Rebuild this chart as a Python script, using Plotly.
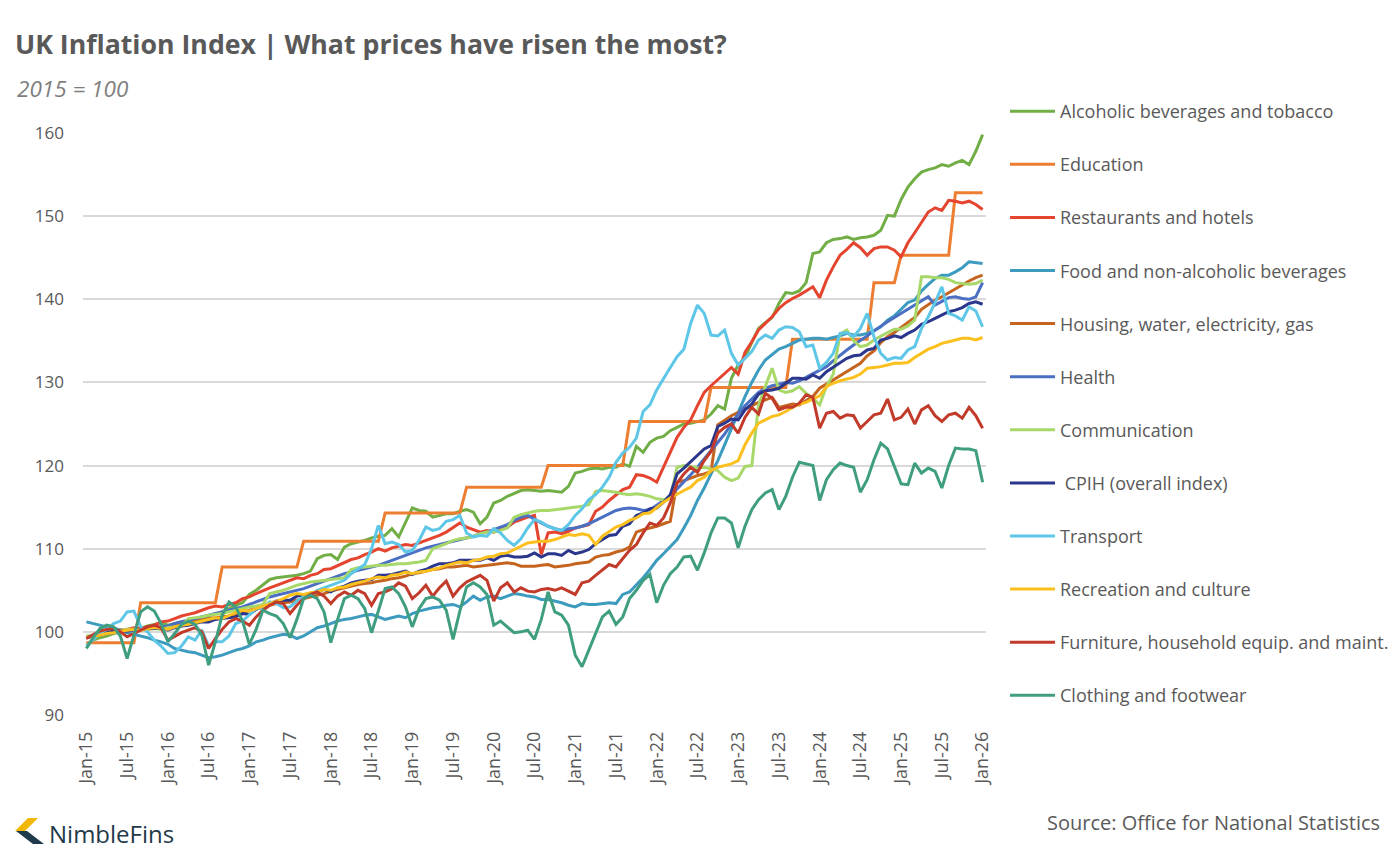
import plotly.graph_objects as go
import pandas as pd

# ---------------- data (CPIH divisions, 2015 = 100, monthly Jan-15 .. Jan-26) ----------------
MONTHS = pd.date_range("2015-01-01", "2026-01-01", freq="MS").strftime("%b-%y").tolist()
TICK_LABELS = ["Jan-15", "Jul-15", "Jan-16", "Jul-16", "Jan-17", "Jul-17", "Jan-18", "Jul-18",
               "Jan-19", "Jul-19", "Jan-20", "Jul-20", "Jan-21", "Jul-21", "Jan-22", "Jul-22",
               "Jan-23", "Jul-23", "Jan-24", "Jul-24", "Jan-25", "Jul-25", "Jan-26"]
Y_TICKS = [90, 100, 110, 120, 130, 140, 150, 160]

ALCOHOL = [
    98.5, 99.0, 99.3, 99.5, 99.8, 100.0, 100.1, 100.2, 100.4, 100.7, 100.9, 101.1,
    100.8, 101.0, 101.2, 101.3, 101.5, 101.7, 101.9, 102.2, 102.4, 102.8, 103.2, 103.5,
    104.5, 105.0, 105.7, 106.3, 106.5, 106.6, 106.7, 106.8, 107.0, 107.3, 108.8, 109.2,
    109.3, 108.7, 110.2, 110.6, 110.8, 111.0, 111.3, 111.5, 111.6, 112.4, 111.4, 113.2,
    114.9, 114.6, 114.5, 113.8, 114.0, 114.2, 114.2, 114.5, 114.7, 114.4, 113.0, 113.8,
    115.5, 115.8, 116.3, 116.7, 117.0, 117.1, 117.0, 116.9, 117.0, 116.9, 116.8, 117.5,
    119.1, 119.3, 119.6, 119.7, 119.6, 119.8, 119.8, 120.2, 119.9, 122.3, 121.6, 122.8,
    123.3, 123.5, 124.2, 124.6, 125.0, 125.1, 125.3, 125.5, 126.2, 127.2, 126.8, 130.5,
    132.1, 133.0, 134.8, 136.5, 137.2, 137.8, 139.5, 140.8, 140.7, 141.0, 142.0, 145.5,
    145.7, 146.8, 147.2, 147.3, 147.5, 147.2, 147.4, 147.5, 147.7, 148.3, 150.1, 150.0,
    152.0, 153.5, 154.5, 155.3, 155.6, 155.8, 156.2, 156.0, 156.4, 156.7, 156.2, 157.8,
    159.8]

EDUCATION = [
    98.7, 98.7, 98.7, 98.7, 98.7, 98.7, 98.7, 98.7, 103.5, 103.5, 103.5, 103.5,
    103.5, 103.5, 103.5, 103.5, 103.5, 103.5, 103.5, 103.5, 107.8, 107.8, 107.8, 107.8,
    107.8, 107.8, 107.8, 107.8, 107.8, 107.8, 107.8, 107.8, 110.9, 110.9, 110.9, 110.9,
    110.9, 110.9, 110.9, 110.9, 110.9, 110.9, 110.9, 110.9, 114.3, 114.3, 114.3, 114.3,
    114.3, 114.3, 114.3, 114.3, 114.3, 114.3, 114.3, 114.3, 117.4, 117.4, 117.4, 117.4,
    117.4, 117.4, 117.4, 117.4, 117.4, 117.4, 117.4, 117.4, 120.0, 120.0, 120.0, 120.0,
    120.0, 120.0, 120.0, 120.0, 120.0, 120.0, 120.0, 120.0, 125.3, 125.3, 125.3, 125.3,
    125.3, 125.3, 125.3, 125.3, 125.3, 125.3, 125.3, 125.3, 129.4, 129.4, 129.4, 129.4,
    129.4, 129.4, 129.4, 129.4, 129.4, 129.4, 129.4, 129.4, 135.2, 135.2, 135.2, 135.2,
    135.2, 135.2, 135.2, 135.2, 135.2, 135.2, 135.2, 135.2, 142.0, 142.0, 142.0, 142.0,
    145.3, 145.3, 145.3, 145.3, 145.3, 145.3, 145.3, 145.3, 152.8, 152.8, 152.8, 152.8,
    152.8]

RESTAURANTS = [
    99.3, 99.5, 99.7, 99.9, 100.0, 100.2, 100.3, 100.5, 100.4, 100.6, 100.8, 101.2,
    101.3, 101.6, 101.9, 102.1, 102.3, 102.6, 102.9, 103.1, 103.0, 103.3, 103.5, 104.0,
    104.2, 104.6, 105.0, 105.3, 105.6, 105.9, 106.2, 106.5, 106.4, 106.8, 107.0, 107.5,
    107.6, 108.0, 108.4, 108.7, 108.9, 109.3, 109.6, 110.0, 109.7, 110.1, 110.3, 110.5,
    110.4, 110.7, 111.0, 111.3, 111.6, 112.0, 112.5, 113.1, 112.6, 112.3, 112.0, 112.2,
    112.0, 112.3, 112.6, 113.2, 113.5, 113.8, 114.0, 109.3, 111.9, 112.0, 111.8, 112.1,
    112.5, 112.7, 112.9, 114.5, 115.0, 115.8, 116.5, 117.1, 117.4, 118.9, 118.8, 118.5,
    118.0, 119.8, 121.5, 123.4, 124.6, 125.5, 127.2, 128.8, 129.6, 130.3, 131.0, 131.8,
    131.0, 133.6, 134.9, 136.3, 137.1, 137.9, 138.9, 139.6, 140.1, 140.5, 141.0, 141.5,
    140.2, 142.3, 143.9, 145.3, 146.0, 146.8, 146.2, 145.3, 146.1, 146.3, 146.3, 145.9,
    145.1, 146.8, 148.0, 149.3, 150.5, 151.0, 150.7, 151.9, 151.8, 151.6, 151.8, 151.4,
    150.8]

FOOD = [
    101.2, 101.0, 100.8, 100.6, 100.5, 100.2, 99.9, 99.7, 99.5, 99.3, 99.0, 98.8,
    98.5, 98.0, 97.8, 97.6, 97.5, 97.2, 96.9, 97.0, 97.2, 97.5, 97.8, 98.0,
    98.3, 98.8, 99.0, 99.3, 99.5, 99.7, 99.6, 99.2, 99.5, 100.0, 100.5, 100.7,
    101.0, 101.3, 101.5, 101.6, 101.8, 102.0, 102.1, 101.8, 101.5, 101.7, 101.9, 101.7,
    102.2, 102.5, 102.7, 102.9, 103.0, 103.2, 103.3, 103.0, 103.6, 104.3, 103.8, 104.2,
    104.3, 104.0, 104.3, 104.6, 104.5, 104.3, 104.2, 103.9, 103.9, 103.7, 103.5, 103.2,
    103.0, 103.4, 103.3, 103.3, 103.4, 103.5, 103.4, 104.5, 104.8, 105.6, 106.5, 107.5,
    108.6, 109.4, 110.2, 111.1, 112.5, 114.0, 115.8, 117.3, 119.0, 120.6, 122.5, 124.5,
    126.3, 128.3, 130.0, 131.5, 132.7, 133.4, 134.0, 134.3, 134.7, 135.1, 135.2, 135.3,
    135.3, 135.2, 135.4, 135.6, 135.9, 135.7, 135.7, 135.9, 136.2, 136.7, 137.5, 138.0,
    138.8, 139.6, 139.9, 141.0, 141.8, 142.5, 142.9, 142.9, 143.3, 143.8, 144.5, 144.4,
    144.3]

HOUSING = [
    99.4, 99.5, 99.6, 99.8, 99.9, 100.0, 100.1, 100.2, 100.3, 100.3, 100.4, 100.5,
    100.6, 100.8, 101.0, 101.1, 101.3, 101.4, 101.6, 101.7, 101.8, 101.9, 102.1, 102.3,
    102.6, 102.8, 103.0, 103.2, 103.4, 103.5, 103.6, 103.8, 104.0, 104.2, 104.4, 104.6,
    104.9, 105.1, 105.3, 105.5, 105.7, 105.8, 105.9, 106.1, 106.2, 106.4, 106.5, 106.7,
    107.0, 107.1, 107.3, 107.5, 107.6, 107.8, 107.8, 107.9, 108.0, 107.8, 107.9, 108.0,
    108.1, 108.2, 108.3, 108.2, 107.9, 107.9, 107.9, 108.0, 108.1, 107.8, 107.9, 108.0,
    108.2, 108.3, 108.4, 109.0, 109.2, 109.3, 109.6, 109.8, 110.2, 112.0, 112.3, 112.5,
    112.7, 113.0, 113.3, 118.0, 118.2, 118.5, 118.8, 119.0, 119.3, 124.9, 125.5, 126.0,
    126.4, 126.8, 127.2, 127.6, 127.9, 128.2, 127.0, 127.2, 127.4, 127.3, 127.8, 128.3,
    129.3, 129.8, 130.3, 130.8, 131.2, 131.7, 132.3, 133.2, 133.8, 134.8, 135.5, 136.0,
    136.6, 137.2, 137.8, 138.8, 139.4, 139.9, 140.3, 140.8, 141.3, 141.7, 142.2, 142.6,
    142.9]

HEALTH = [
    99.3, 99.5, 99.6, 99.8, 99.9, 100.0, 100.1, 100.2, 100.3, 100.4, 100.5, 100.6,
    100.7, 101.0, 101.2, 101.4, 101.6, 101.8, 102.0, 102.2, 102.4, 102.6, 102.8, 103.0,
    103.3, 103.6, 103.9, 104.2, 104.4, 104.6, 104.8, 105.0, 105.2, 105.5, 105.8, 106.1,
    106.4, 106.7, 107.0, 107.2, 107.4, 107.6, 107.8, 108.0, 108.3, 108.6, 108.9, 109.2,
    109.5, 109.8, 110.1, 110.3, 110.5, 110.7, 110.9, 111.1, 111.3, 111.5, 111.8, 112.0,
    112.3, 112.6, 112.9, 113.4, 113.8, 114.0, 113.5, 113.1, 112.7, 112.4, 112.2, 112.4,
    112.5, 112.7, 113.0, 113.4, 113.8, 114.2, 114.6, 114.8, 114.9, 114.8, 114.6, 114.7,
    115.2, 115.8, 116.3, 117.2, 118.0, 118.9, 119.8, 120.8, 121.8, 122.8, 123.8, 125.0,
    126.2, 127.2, 128.0, 128.8, 129.3, 129.6, 129.8, 130.0, 129.9, 130.2, 130.6, 131.0,
    131.4, 131.9, 132.6, 133.3, 133.9, 134.5, 135.0, 135.6, 136.2, 136.8, 137.3, 137.8,
    138.3, 138.8, 139.3, 139.7, 140.3, 139.3, 139.8, 140.2, 140.3, 140.1, 140.0, 140.3,
    142.0]

COMMUNICATION = [
    99.5, 99.6, 99.7, 100.1, 100.2, 100.2, 100.3, 100.3, 100.2, 100.3, 100.4, 100.3,
    100.5, 100.6, 100.7, 101.6, 101.7, 101.8, 102.0, 102.1, 102.2, 102.4, 102.6, 102.8,
    103.0, 103.1, 103.3, 104.6, 104.8, 105.0, 105.3, 105.6, 105.8, 106.0, 106.1, 106.2,
    106.3, 106.4, 106.5, 107.5, 107.7, 107.8, 107.9, 108.0, 108.0, 108.1, 108.2, 108.2,
    108.3, 108.4, 108.6, 110.0, 110.3, 110.6, 111.0, 111.2, 111.3, 111.5, 111.8, 112.0,
    112.0, 112.2, 112.5, 113.8, 114.1, 114.3, 114.5, 114.6, 114.6, 114.7, 114.8, 114.9,
    115.0, 115.1, 115.3, 116.9, 117.0, 116.9, 116.8, 116.6, 116.5, 116.6, 116.5, 116.3,
    116.0, 115.9, 116.1, 119.8, 120.0, 119.9, 119.7, 119.8, 119.6, 119.4, 118.6, 118.2,
    118.5, 119.9, 120.0, 127.3, 129.5, 131.7, 129.1, 128.8, 129.0, 129.5, 128.7, 128.1,
    127.3, 129.5, 131.0, 135.8, 136.3, 135.0, 134.3, 134.5, 135.1, 135.6, 136.0, 136.4,
    136.4, 136.8, 137.5, 142.7, 142.7, 142.6, 142.6, 142.4, 142.0, 141.9, 141.8, 141.9,
    142.3]

CPIH = [
    99.3, 99.5, 99.7, 99.9, 100.1, 100.2, 100.1, 100.3, 100.3, 100.4, 100.4, 100.5,
    100.2, 100.5, 100.7, 100.8, 101.0, 101.2, 101.2, 101.5, 101.6, 101.7, 101.8, 102.2,
    102.1, 102.7, 103.0, 103.4, 103.7, 103.8, 103.8, 104.3, 104.4, 104.6, 104.8, 105.1,
    104.8, 105.3, 105.5, 105.9, 106.1, 106.2, 106.3, 106.8, 106.8, 106.9, 107.1, 107.3,
    106.9, 107.3, 107.5, 107.9, 108.2, 108.2, 108.3, 108.6, 108.6, 108.6, 108.6, 108.9,
    108.6, 109.1, 109.2, 109.0, 109.0, 109.1, 109.5, 109.0, 109.4, 109.4, 109.2, 109.8,
    109.4, 109.6, 109.9, 110.6, 111.1, 111.6, 111.7, 112.7, 113.0, 114.0, 114.3, 114.8,
    114.9, 115.6, 116.5, 119.0, 119.7, 120.5, 121.2, 122.0, 122.4, 124.7, 125.1, 125.6,
    125.5, 126.7, 127.4, 128.6, 129.0, 129.1, 129.3, 129.9, 130.5, 130.5, 130.4, 130.9,
    130.5, 131.3, 131.8, 132.4, 132.9, 133.2, 133.3, 133.9, 134.1, 135.1, 135.3, 135.6,
    135.4, 135.9, 136.3, 137.0, 137.3, 137.7, 138.1, 138.5, 138.7, 139.0, 139.5, 139.7,
    139.4]

TRANSPORT = [
    98.3, 99.0, 99.8, 100.3, 101.0, 101.3, 102.4, 102.5, 100.6, 100.0, 99.0, 98.3,
    97.4, 97.5, 98.3, 99.4, 99.0, 100.2, 98.3, 98.8, 98.8, 99.5, 101.0, 101.3,
    102.0, 102.8, 102.9, 103.6, 103.4, 102.9, 103.0, 103.7, 104.2, 104.4, 105.0, 105.3,
    105.6, 105.9, 106.2, 107.0, 107.5, 108.1, 110.0, 112.8, 110.6, 110.8, 110.5, 109.6,
    109.8, 111.0, 112.6, 112.2, 112.4, 113.3, 113.5, 114.0, 111.9, 111.4, 111.6, 111.5,
    112.4, 111.9, 111.0, 110.4, 111.2, 112.5, 113.5, 113.2, 112.7, 112.4, 112.2, 112.9,
    114.0, 114.8, 115.9, 116.5, 117.4, 118.6, 120.4, 121.5, 122.2, 123.3, 126.5, 127.3,
    129.1, 130.5, 131.8, 133.1, 134.0, 137.1, 139.3, 138.3, 135.7, 135.6, 136.3, 133.5,
    132.1, 132.9, 133.7, 135.1, 135.7, 135.3, 136.3, 136.7, 136.6, 136.1, 134.3, 134.5,
    131.7, 132.4, 133.5, 135.9, 136.0, 135.5, 136.5, 138.3, 135.5, 133.5, 132.7, 133.0,
    132.9, 133.9, 134.3, 136.5, 137.9, 139.6, 141.5, 138.3, 138.0, 137.5, 139.1, 138.6,
    136.7]

RECREATION = [
    99.3, 99.5, 99.6, 99.8, 99.9, 100.1, 100.2, 100.3, 100.2, 100.4, 100.5, 100.5,
    100.3, 100.6, 100.8, 100.9, 101.1, 101.3, 101.5, 101.7, 101.6, 102.0, 102.3, 102.6,
    102.5, 102.8, 103.1, 103.4, 103.7, 104.0, 104.4, 104.6, 104.5, 104.7, 104.8, 105.1,
    105.0, 105.3, 105.4, 105.7, 105.9, 106.1, 106.4, 106.6, 106.5, 106.8, 106.9, 107.2,
    107.0, 107.2, 107.3, 107.5, 107.7, 108.0, 108.2, 108.4, 108.3, 108.6, 108.7, 109.0,
    109.1, 109.4, 109.5, 109.9, 110.3, 110.7, 110.8, 110.9, 110.9, 111.1, 111.4, 111.7,
    111.6, 111.8, 111.6, 110.5, 111.5, 112.0, 112.6, 112.9, 113.4, 113.7, 114.2, 114.3,
    115.0, 115.6, 116.1, 116.6, 117.0, 117.4, 118.2, 118.6, 119.4, 119.8, 120.0, 120.2,
    120.6, 122.5, 123.9, 125.1, 125.5, 125.9, 126.1, 126.5, 127.0, 127.4, 127.6, 128.0,
    128.4, 129.5, 129.9, 130.2, 130.4, 130.6, 131.0, 131.7, 131.8, 131.9, 132.1, 132.3,
    132.3, 132.4, 133.0, 133.5, 134.0, 134.3, 134.7, 134.9, 135.1, 135.3, 135.3, 135.1,
    135.4]

FURNITURE = [
    99.2, 99.7, 100.1, 100.3, 100.4, 100.0, 99.4, 99.8, 100.2, 100.6, 100.8, 100.5,
    99.0, 99.5, 99.9, 100.2, 100.5, 100.0, 98.0, 99.2, 100.3, 101.2, 101.6, 101.3,
    100.8, 101.8, 102.6, 103.2, 103.6, 103.4, 102.2, 103.2, 104.0, 104.5, 104.8, 104.3,
    103.4, 104.3, 104.8, 104.4, 105.0, 104.6, 103.2, 104.6, 104.8, 105.2, 105.9, 105.5,
    104.0, 104.7, 105.6, 104.3, 105.3, 106.1, 104.3, 105.3, 106.0, 106.4, 106.8, 106.2,
    103.7, 105.3, 105.9, 104.8, 105.3, 104.9, 104.8, 105.1, 105.2, 105.0, 105.3, 104.9,
    104.5, 105.9, 106.1, 106.8, 107.4, 108.1, 107.8, 108.8, 109.8, 110.5, 111.9, 113.1,
    112.8, 113.7, 115.5, 117.9, 119.0, 119.8, 119.2, 120.6, 121.7, 123.9, 124.6, 125.0,
    123.9, 125.8, 127.0, 126.2, 128.7, 128.1, 126.7, 127.0, 127.0, 127.5, 128.5, 128.2,
    124.5, 126.3, 126.5, 125.7, 126.1, 126.0, 124.5, 125.3, 126.1, 126.3, 128.0, 125.5,
    125.8, 126.8, 125.0, 126.7, 127.2, 126.0, 125.3, 126.1, 126.3, 125.7, 127.0, 126.0,
    124.5]

CLOTHING = [
    98.0, 99.3, 100.4, 100.8, 100.6, 99.5, 96.8, 99.6, 102.4, 103.0, 102.5, 101.0,
    98.8, 99.8, 100.9, 101.3, 100.9, 99.6, 96.0, 98.8, 102.0, 103.6, 103.0, 101.3,
    98.5, 100.3, 102.6, 102.2, 101.9, 101.0, 99.3, 101.5, 104.0, 104.4, 104.0, 102.4,
    98.7, 101.5, 104.0, 104.4, 104.0, 102.8, 99.9, 102.5, 105.2, 105.4, 104.6, 103.0,
    100.6, 102.8, 104.0, 104.2, 103.8, 102.6, 99.1, 102.5, 105.4, 105.9, 105.4, 104.5,
    100.8, 101.3, 100.6, 99.9, 100.0, 100.2, 99.1, 101.5, 104.8, 102.4, 102.0, 100.8,
    97.2, 95.8, 97.8, 99.9, 101.8, 102.5, 100.9, 101.8, 104.0, 105.0, 106.2, 106.9,
    103.5, 105.6, 107.0, 107.8, 109.0, 109.1, 107.4, 109.5, 111.9, 113.7, 113.7, 113.1,
    110.1, 112.7, 114.7, 115.9, 116.7, 117.1, 114.7, 116.3, 118.6, 120.4, 120.2, 120.0,
    115.8, 118.3, 119.5, 120.3, 120.0, 119.8, 116.8, 118.3, 120.7, 122.7, 122.0, 120.0,
    117.8, 117.7, 120.3, 119.1, 119.7, 119.3, 117.3, 120.0, 122.1, 122.0, 122.0, 121.8,
    118.0]

SERIES_NAMES = [
    "Alcoholic beverages and tobacco",
    "Education",
    "Restaurants and hotels",
    "Food and non-alcoholic beverages",
    "Housing, water, electricity, gas",
    "Health",
    "Communication",
    " CPIH (overall index)",
    "Transport",
    "Recreation and culture",
    "Furniture, household equip. and maint.",
    "Clothing and footwear",
]
SERIES_VALUES = [ALCOHOL, EDUCATION, RESTAURANTS, FOOD, HOUSING, HEALTH,
                 COMMUNICATION, CPIH, TRANSPORT, RECREATION, FURNITURE, CLOTHING]

# ---------------- styles ----------------
COLORS = ["#72AE46", "#ED7D31", "#E5452F", "#3C9BBE", "#C5641F", "#4A6FC3",
          "#A8D86A", "#2B378C", "#5EC6E6", "#FBC01E", "#C23A2A", "#3F9E80"]
FONT = "'Open Sans', sans-serif"
TXT = "#595959"

W, H = 1400, 852
PL, PR, PT, PB = 83, 986, 133, 715   # plot area in pixels


def px_x(px):
    return (px - PL) / (PR - PL)


def px_y(py):
    return (PB - py) / (PB - PT)


fig = go.Figure()
for name, vals, col in zip(SERIES_NAMES, SERIES_VALUES, COLORS):
    if len(vals) != len(MONTHS):
        raise ValueError(f"{name}: {len(vals)} values")
    fig.add_trace(go.Scatter(
        x=MONTHS, y=vals, name=name, mode="lines",
        line=dict(color=col, width=3),
        legendgroup=name,
    ))

fig.update_layout(
    width=W, height=H,
    margin=dict(l=PL, r=W - PR, t=PT, b=H - PB, pad=0, autoexpand=False),
    paper_bgcolor="white", plot_bgcolor="white",
    font=dict(family=FONT, color=TXT),
    showlegend=True,
    legend=dict(
        x=px_x(1005), y=px_y(93), xanchor="left", yanchor="top",
        font=dict(size=18, color=TXT, family=FONT),
        tracegroupgap=26.7, itemwidth=45, maxheight=800,
        bgcolor="rgba(0,0,0,0)", borderwidth=0,
    ),
    title=dict(
        text="<b>UK Inflation Index | What prices have risen the most?</b>",
        x=15 / W, xref="container", xanchor="left",
        y=1 - 45 / H, yref="container", yanchor="middle",
        font=dict(size=26.7, color=TXT, family=FONT),
    ),
    hovermode=False,
)

fig.update_xaxes(
    type="category", range=[-0.5, len(MONTHS) - 0.5],
    tickmode="array", tickvals=TICK_LABELS, ticktext=TICK_LABELS,
    tickangle=-90, tickfont=dict(size=18, color=TXT, family=FONT),
    showgrid=False, zeroline=False, showline=False, automargin=False,
    ticks="", ticklabelstandoff=12,
)
fig.update_yaxes(
    range=[Y_TICKS[0], Y_TICKS[-1]], tickmode="array", tickvals=Y_TICKS,
    tickfont=dict(size=17, color=TXT, family=FONT),
    showgrid=True, gridcolor="#D9D9D9", gridwidth=1.5, automargin=False,
    zeroline=False, showline=False, ticks="", ticklabelstandoff=18,
)

# subtitle, source, brand
fig.add_annotation(text="<i>2015 = 100</i>", xref="paper", yref="paper",
                   x=px_x(15), y=px_y(88), xanchor="left", yanchor="middle",
                   showarrow=False, font=dict(size=22.5, color="#7F7F7F", family=FONT))
fig.add_annotation(text="Source: Office for National Statistics", xref="paper", yref="paper",
                   x=px_x(1382), y=px_y(822), xanchor="right", yanchor="middle",
                   showarrow=False, font=dict(size=20, color=TXT, family=FONT))
fig.add_annotation(text="NimbleFins", xref="paper", yref="paper",
                   x=px_x(47), y=px_y(833), xanchor="left", yanchor="middle",
                   showarrow=False, font=dict(size=24, color="#1F3A4A", family=FONT))


def poly(points):
    return "M " + " L ".join(f"{px_x(a):.5f},{px_y(b):.5f}" for a, b in points) + " Z"


fig.add_shape(type="path", xref="paper", yref="paper", line=dict(width=0),
              fillcolor="#F2B705", path=poly([(15, 831), (28, 818), (38, 818), (25, 831)]))
fig.add_shape(type="path", xref="paper", yref="paper", line=dict(width=0),
              fillcolor="#1F3A4A", path=poly([(16, 831), (27, 831), (44, 844), (33, 844)]))

fig.write_html("out.html")
